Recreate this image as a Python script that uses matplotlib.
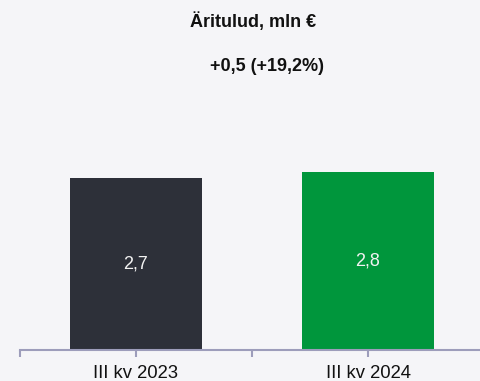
import matplotlib
matplotlib.use("Agg")
import matplotlib.pyplot as plt

categories = ["III kv 2023", "III kv 2024"]
values = [2.7, 2.8]
value_labels = ["2,7", "2,8"]
title = "Äritulud, mln €"
subtitle = "+0,5 (+19,2%)"

bar_colors = ["#2d3039", "#00963c"]
bg = "#f5f5f8"
axis_color = "#9d9dbb"

plt.rcParams["font.family"] = ["Liberation Sans", "DejaVu Sans"]

W, H = 480, 381
fig = plt.figure(figsize=(W / 100, H / 100), dpi=100, facecolor=bg)

# axes spans one category width per bar; right edge runs past the figure
left_px, right_px = 20, 484
bottom_px, top_px = 349.5, 100
ax = fig.add_axes([left_px / W, 1 - bottom_px / H,
                   (right_px - left_px) / W, (bottom_px - top_px) / H])
ax.set_facecolor(bg)

x = list(range(len(categories)))
bars = ax.bar(x, values, width=0.573, color=bar_colors)

ax.set_xlim(-0.5, len(categories) - 0.5)
ax.set_ylim(0, 249.5 / 63.5)

for b, lab in zip(bars, value_labels):
    ax.text(b.get_x() + b.get_width() / 2, b.get_height() / 2, lab,
            ha="center", va="center", color="#f2f2f2", fontsize=13)

for s in ["top", "right", "left"]:
    ax.spines[s].set_visible(False)
ax.spines["bottom"].set_color(axis_color)
ax.spines["bottom"].set_linewidth(1.5)
ax.set_yticks([])

ax.set_xticks(x)
ax.set_xticklabels(categories, fontsize=13.3, color="#111111")
ax.set_xticks([i - 0.5 for i in range(len(categories) + 1)], minor=True)
ax.tick_params(axis="x", which="both", length=5, width=1.5, color=axis_color, pad=6.5)

fig.text(253.5 / W, 1 - 21.5 / H, title, ha="center", va="center",
         fontsize=13, fontweight="bold", color="#111111")
fig.text(267 / W, 1 - 66.5 / H, subtitle, ha="center", va="center",
         fontsize=13, fontweight="bold", color="#111111")

fig.savefig("out.png", dpi=100, facecolor=bg)
